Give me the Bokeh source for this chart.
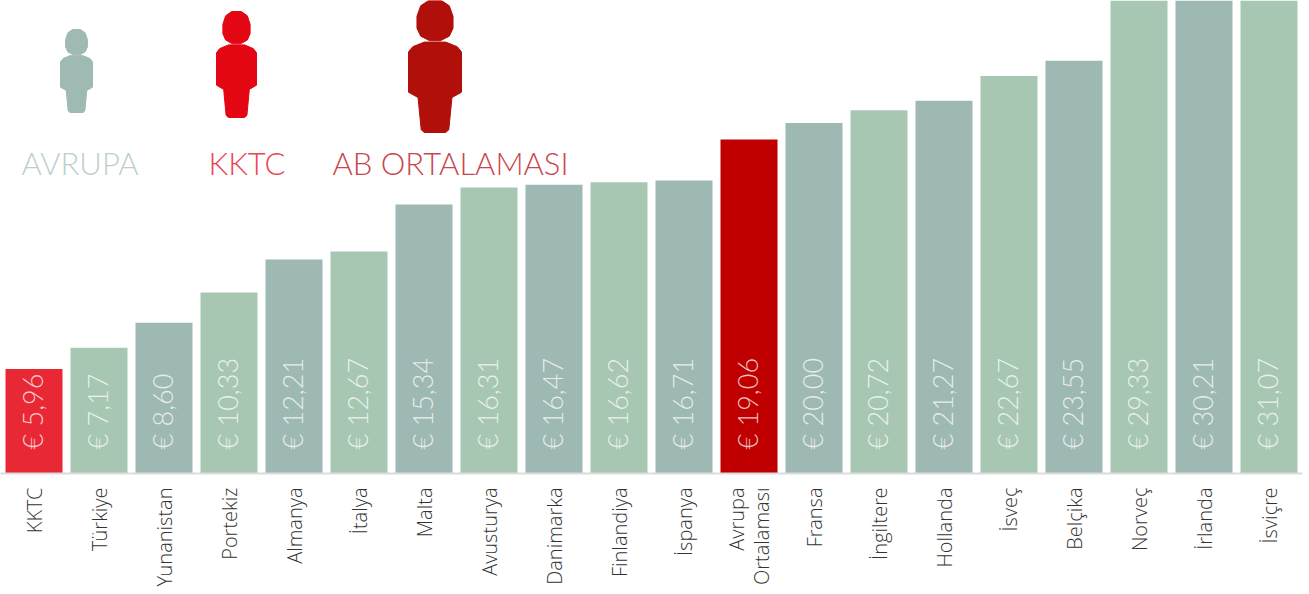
from math import pi
from bokeh.plotting import figure
from bokeh.models import ColumnDataSource, FactorRange, Range1d
from bokeh.core.properties import value
from bokeh.embed import file_html
from bokeh.resources import INLINE

categories = ["KKTC", "Türkiye", "Yunanistan", "Portekiz", "Almanya", "İtalya", "Malta", "Avusturya",
              "Danimarka", "Finlandiya", "İspanya", "Avrupa\nOrtalaması", "Fransa", "İngiltere",
              "Hollanda", "İsveç", "Belçika", "Norveç", "İrlanda", "İsviçre"]
values = [5.96, 7.17, 8.60, 10.33, 12.21, 12.67, 15.34, 16.31, 16.47, 16.62, 16.71, 19.06,
          20.00, 20.72, 21.27, 22.67, 23.55, 29.33, 30.21, 31.07]
labels = ["€ 5,96", "€ 7,17", "€ 8,60", "€ 10,33", "€ 12,21", "€ 12,67", "€ 15,34", "€ 16,31",
          "€ 16,47", "€ 16,62", "€ 16,71", "€ 19,06", "€ 20,00", "€ 20,72", "€ 21,27", "€ 22,67",
          "€ 23,55", "€ 29,33", "€ 30,21", "€ 31,07"]
bar_colors = ["#e92835", "#a7c7b3", "#9eb8b3", "#a7c7b3", "#9eb8b3", "#a7c7b3", "#9eb8b3", "#a7c7b3",
              "#9eb8b3", "#a7c7b3", "#9eb8b3", "#c00000", "#9eb8b3", "#a7c7b3", "#9eb8b3", "#a7c7b3",
              "#9eb8b3", "#a7c7b3", "#9eb8b3", "#a7c7b3"]

legend_names = ["AVRUPA", "KKTC", "AB ORTALAMASI"]
legend_text_colors = ["#bcd0cb", "#ea4552", "#c9464c"]
legend_icon_colors = ["#9fb9b3", "#e30613", "#b00f0a"]
legend_text_x = [21, 208, 332]
legend_text_y = [162, 162, 162]
# icon box: centre x, top y, body width, total height
icon_cx = [76, 236, 434.5]
icon_top = [29, 11, 0]
icon_w = [32, 40, 53]
icon_h = [83, 106, 132]

# person silhouette in unit coordinates
head_x = [-.12, .12, .27, .34, .34, .27, .1, -.1, -.27, -.34, -.34, -.27]
head_y = [0, 0, .04, .12, .21, .27, .305, .305, .27, .21, .12, .04]
body_x = [-.2, .2, .42, .5, .5, .32, .26, .2, -.2, -.26, -.32, -.5, -.5, -.42]
body_y = [.315, .315, .35, .39, .695, .735, .98, 1, 1, .98, .735, .695, .39, .35]

source = ColumnDataSource(dict(cat=categories, val=values, lab=labels, col=bar_colors,
                               base=[0] * len(values)))

p = figure(frame_width=1302, frame_height=473, output_backend="svg", toolbar_location=None,
           x_range=FactorRange(factors=categories, range_padding=1 / 65, range_padding_units="absolute",
                               factor_padding=0, group_padding=0),
           y_range=Range1d(0, 473 / 17.53),
           min_border_left=0, min_border_right=7, min_border_top=0, min_border_bottom=0,
           outline_line_color=None, background_fill_color="white", border_fill_color="white")
p.grid.visible = False
p.yaxis.visible = False

p.vbar(x="cat", top="val", width=57 / 65, color="col", line_color=None, source=source)
p.text(x="cat", y="base", text="lab", source=source, angle=pi / 2, y_offset=-24, x_offset=-2,
       text_align="left", text_baseline="middle", text_color="#ffffff", text_alpha=0.75,
       text_font=value("Lato Light"), text_font_size="27px")

ax = p.xaxis[0]
ax.axis_line_color = "#dcdcdc"
ax.axis_line_width = 2
ax.major_tick_line_color = None
ax.minor_tick_line_color = None
ax.major_label_orientation = pi / 2
ax.major_label_standoff = 8
ax.major_label_text_font = "Open Sans Light"
ax.major_label_text_font_size = "20px"
ax.major_label_text_color = "#333333"
ax.major_label_text_line_height = 0.92

p.extra_y_ranges["px"] = Range1d(473, 0)


def fx(px):
    # pixel column of the legend area -> position on the factor axis
    return (px - 1) / 65


for cx, top, w, h, c in zip(icon_cx, icon_top, icon_w, icon_h, legend_icon_colors):
    p.patch([fx(cx + w * v) for v in body_x], [top + h * v for v in body_y], color=c, y_range_name="px")
    p.patch([fx(cx + w * v) for v in head_x], [top + h * v for v in head_y], color=c, y_range_name="px")

p.text(x=[fx(v) for v in legend_text_x], y=legend_text_y, text=legend_names, text_color=legend_text_colors,
       text_font=value("Lato Light"), text_font_size="31px", text_align="left",
       text_baseline="alphabetic", y_range_name="px")

open("out.html", "w").write(file_html(p, INLINE))
